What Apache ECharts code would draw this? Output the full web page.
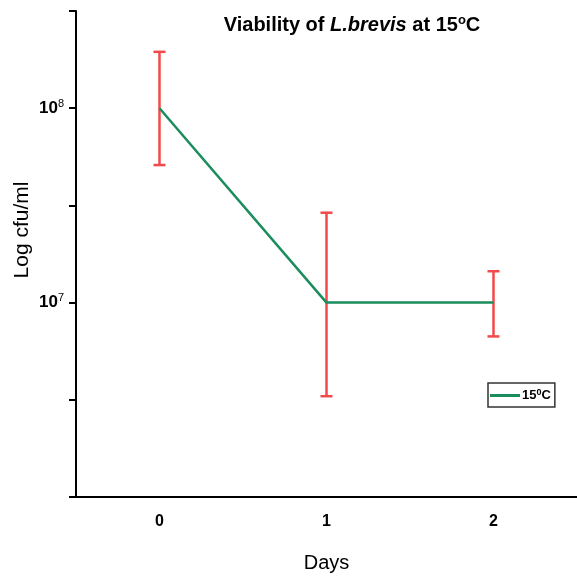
<!DOCTYPE html>
<html>
<head>
<meta charset="utf-8">
<script src="https://cdn.jsdelivr.net/npm/echarts@6/dist/echarts.min.js"></script>
<style>
  html, body { margin: 0; padding: 0; background: #fff; }
  #chart { width: 577px; height: 577px; }
</style>
</head>
<body>
<div id="chart"></div>
<script>
// days and mean counts (cfu/ml)
var days = ['0', '1', '2']
var meanCfu = [1.0e8, 1.0e7, 1.0e7]
// error bar ends
var lowerCfu = [5.1e7, 3.3e6, 6.7e6]
var upperCfu = [1.95e8, 2.9e7, 1.45e7]

var font = '"Liberation Sans", Arial, sans-serif'
var green = '#1b8c5c'
var red = '#f24a4a'

var chart = echarts.init(document.getElementById('chart'))

function supLabel(v) {
  var p = Math.log10(v)
  if (Math.abs(p - Math.round(p)) > 1e-6) return ''
  if (Math.round(p) === 6) return ''
  return '{b|10}{s|' + Math.round(p) + '}'
}

chart.setOption({
  animation: false,
  title: {
    text: '{n|Viability of }{i|L.brevis}{n| at 15}{s|o}{n|C}',
    left: 347,
    textAlign: 'center',
    top: 9,
    textStyle: {
      rich: {
        n: { fontFamily: font, fontWeight: 'bold', fontSize: 20, color: '#000' },
        i: { fontFamily: font, fontWeight: 'bold', fontStyle: 'italic', fontSize: 20, color: '#000' },
        s: { fontFamily: font, fontWeight: 'bold', fontSize: 13, color: '#000', verticalAlign: 'top', padding: [0, 0, 9, 0] }
      }
    }
  },
  legend: {
    left: 488,
    top: 383,
    orient: 'vertical',
    borderColor: '#333',
    borderWidth: 1.5,
    padding: [5, 4, 5, 2],
    itemGap: 0,
    itemWidth: 30,
    itemHeight: 3,
    icon: 'rect',
    formatter: function () { return '{a|15}{s|0}{a|C}' },
    textStyle: {
      padding: [0, 0, 0, -3],
      rich: {
        a: { fontFamily: font, fontWeight: 'bold', fontSize: 13, color: '#000' },
        s: { fontFamily: font, fontWeight: 'bold', fontSize: 9, color: '#000', verticalAlign: 'top', padding: [0, 0, 6, 0] }
      }
    },
    data: ['15C']
  },
  grid: {
    left: 76,
    right: 0,
    top: 11,
    bottom: 80,
    outerBoundsMode: 'none',
    containLabel: false
  },
  xAxis: {
    type: 'category',
    data: days,
    boundaryGap: true,
    name: 'Days',
    nameLocation: 'middle',
    nameGap: 56,
    nameTextStyle: { fontFamily: font, fontSize: 20, color: '#000' },
    axisLine: { onZero: false, lineStyle: { color: '#000', width: 2 } },
    axisTick: { alignWithLabel: true, length: 8, lineStyle: { color: '#000', width: 2 } },
    axisLabel: { fontFamily: font, fontWeight: 'bold', fontSize: 16, color: '#000', margin: 17 },
    splitLine: { show: false }
  },
  yAxis: {
    type: 'log',
    logBase: 10,
    min: 1e6,
    max: Math.pow(10, 8.5),
    interval: 0.5,
    name: 'Log cfu/ml',
    nameLocation: 'middle',
    nameGap: 43,
    nameMoveOverlap: false,
    nameTextStyle: { fontFamily: font, fontSize: 21, color: '#000', padding: [0, 0, 0, 48] },
    axisLine: { show: true, onZero: false, lineStyle: { color: '#000', width: 2 } },
    axisTick: { show: true, length: 7, lineStyle: { color: '#000', width: 2 } },
    axisLabel: {
      margin: 12,
      formatter: supLabel,
      rich: {
        b: { fontFamily: font, fontWeight: 'bold', fontSize: 17, color: '#000' },
        s: { fontFamily: font, fontSize: 11, color: '#000', verticalAlign: 'top', padding: [0, 0, 9, 0] }
      }
    },
    splitLine: { show: false }
  },
  series: [
    {
      name: '15C',
      type: 'line',
      data: meanCfu,
      symbol: 'none',
      lineStyle: { color: green, width: 2.5 },
      itemStyle: { color: green },
      z: 3
    },
    {
      name: 'error',
      type: 'custom',
      data: days.map(function (d, i) { return [i, lowerCfu[i], upperCfu[i]] }),
      encode: { x: 0, y: [1, 2] },
      z: 2,
      renderItem: function (params, api) {
        var lo = api.coord([api.value(0), api.value(1)])
        var hi = api.coord([api.value(0), api.value(2)])
        var w = 6
        var style = { stroke: red, lineWidth: 2.5 }
        return {
          type: 'group',
          children: [
            { type: 'line', shape: { x1: hi[0], y1: hi[1], x2: lo[0], y2: lo[1] }, style: style },
            { type: 'line', shape: { x1: hi[0] - w, y1: hi[1], x2: hi[0] + w, y2: hi[1] }, style: style },
            { type: 'line', shape: { x1: lo[0] - w, y1: lo[1], x2: lo[0] + w, y2: lo[1] }, style: style }
          ]
        }
      }
    }
  ]
})
</script>
</body>
</html>
